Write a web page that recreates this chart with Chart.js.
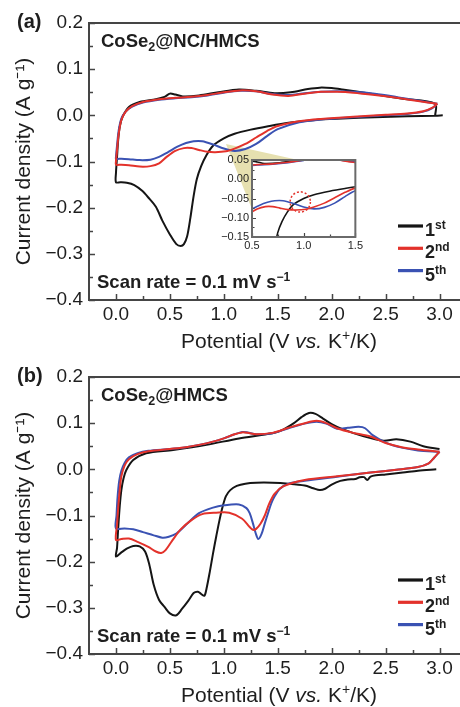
<!DOCTYPE html>
<html><head><meta charset="utf-8">
<script src="https://cdn.jsdelivr.net/npm/chart.js@4/dist/chart.umd.min.js"></script>
<style>
html,body{margin:0;padding:0;background:#fff;}
#wrap{position:relative;width:460px;height:707px;overflow:hidden;}
.box{position:absolute;}
canvas{display:block;}
</style></head><body>
<div id="wrap">
 <div class="box" style="left:0;top:0;"><canvas id="ca" width="460" height="353"></canvas></div>
 <div class="box" style="left:0;top:354px;"><canvas id="cb" width="460" height="353"></canvas></div>
 <div class="box" style="left:210px;top:150px;"><canvas id="ci" width="155" height="105"></canvas></div>
</div>
<script>
// ---------------- DATA ----------------
const cycleLabels = ['1', '2', '5'];
const cycleSup = ['st', 'nd', 'th'];
const xTickValues = [0, 0.5, 1.0, 1.5, 2.0, 2.5, 3.0];
const yTickValues = [-0.4, -0.3, -0.2, -0.1, 0.0, 0.1, 0.2];
const insetXTicks = [0.5, 1.0, 1.5];
const insetYTicks = [-0.15, -0.10, -0.05, 0.00, 0.05];
const panelTitles = ['CoSe2@NC/HMCS', 'CoSe2@HMCS'];

// Panel (a) CoSe2@NC/HMCS — potential (V) and current density (A/g), cathodic then anodic branch
const a1V = [3.03, 2.96, 2.7, 2.4, 2.1, 1.85, 1.6, 1.4, 1.25, 1.1, 1.0, 0.9, 0.84, 0.79, 0.75, 0.72, 0.69, 0.66, 0.63, 0.6, 0.56, 0.5, 0.43, 0.37, 0.3, 0.24, 0.17, 0.1, 0.04, 0.0,
             0.0, 0.01, 0.02, 0.035, 0.06, 0.12, 0.22, 0.37, 0.45, 0.5, 0.55, 0.62, 0.77, 0.95, 1.14, 1.3, 1.47, 1.62, 1.78, 1.89, 2.0, 2.1, 2.36, 2.66, 2.96, 2.96];
const a1I = [0.0, -0.001, -0.002, -0.004, -0.007, -0.01, -0.016, -0.024, -0.031, -0.04, -0.05, -0.066, -0.086, -0.11, -0.138, -0.175, -0.222, -0.262, -0.279, -0.283, -0.279, -0.258, -0.228, -0.198, -0.178, -0.163, -0.151, -0.146, -0.145, -0.145,
             -0.125, -0.09, -0.055, -0.025, -0.004, 0.018, 0.029, 0.035, 0.04, 0.047, 0.045, 0.041, 0.043, 0.05, 0.056, 0.053, 0.048, 0.05, 0.057, 0.06, 0.059, 0.056, 0.047, 0.036, 0.025, 0.0];
const a2V = [2.98, 2.93, 2.85, 2.7, 2.5, 2.2, 1.9, 1.7, 1.5, 1.4, 1.3, 1.2, 1.1, 1.02, 0.92, 0.85, 0.77, 0.7, 0.63, 0.55, 0.47, 0.4, 0.32, 0.22, 0.12, 0.05, 0.0,
             0.0, 0.01, 0.025, 0.05, 0.09, 0.15, 0.25, 0.4, 0.55, 0.7, 0.85, 1.0, 1.15, 1.3, 1.45, 1.6, 1.75, 1.9, 2.05, 2.2, 2.4, 2.6, 2.8, 2.98];
const a2I = [0.025, 0.016, 0.009, 0.004, 0.001, -0.003, -0.008, -0.013, -0.023, -0.034, -0.048, -0.062, -0.072, -0.078, -0.08, -0.079, -0.075, -0.071, -0.071, -0.077, -0.09, -0.104, -0.11, -0.111, -0.108, -0.107, -0.107,
             -0.1, -0.075, -0.04, -0.01, 0.008, 0.02, 0.029, 0.035, 0.038, 0.04, 0.044, 0.05, 0.054, 0.052, 0.045, 0.042, 0.047, 0.051, 0.051, 0.049, 0.044, 0.038, 0.031, 0.025];
const a5V = [2.98, 2.93, 2.85, 2.7, 2.5, 2.2, 1.9, 1.7, 1.5, 1.4, 1.3, 1.2, 1.1, 1.0, 0.9, 0.8, 0.72, 0.65, 0.57, 0.48, 0.4, 0.32, 0.22, 0.12, 0.05, 0.0,
             0.0, 0.01, 0.025, 0.05, 0.09, 0.15, 0.25, 0.4, 0.55, 0.7, 0.85, 1.0, 1.15, 1.3, 1.45, 1.6, 1.75, 1.9, 2.05, 2.2, 2.4, 2.6, 2.8, 2.98];
const a5I = [0.025, 0.015, 0.008, 0.003, 0.0, -0.004, -0.009, -0.015, -0.03, -0.045, -0.062, -0.073, -0.077, -0.072, -0.063, -0.056, -0.056, -0.06, -0.068, -0.08, -0.09, -0.096, -0.097, -0.095, -0.094, -0.094,
             -0.09, -0.065, -0.033, -0.007, 0.008, 0.019, 0.028, 0.034, 0.037, 0.039, 0.043, 0.049, 0.053, 0.052, 0.046, 0.044, 0.048, 0.051, 0.052, 0.051, 0.047, 0.04, 0.032, 0.025];

// Panel (b) CoSe2@HMCS
const b1V = [2.97, 2.8, 2.66, 2.5, 2.41, 2.36, 2.33, 2.3, 2.26, 2.22, 2.15, 2.08, 2.0, 1.94, 1.89, 1.83, 1.75, 1.6, 1.45, 1.3, 1.2, 1.12, 1.06, 1.02, 0.99, 0.96, 0.93, 0.9, 0.87, 0.84, 0.82, 0.79, 0.76, 0.72, 0.67, 0.61, 0.56, 0.5, 0.45, 0.4, 0.35, 0.31, 0.27, 0.22, 0.16, 0.1, 0.05, 0.0,
             0.01, 0.02, 0.035, 0.05, 0.07, 0.095, 0.16, 0.28, 0.53, 0.84, 1.14, 1.45, 1.55, 1.65, 1.72, 1.79, 1.85, 1.92, 2.0, 2.1, 2.29, 2.48, 2.6, 2.73, 2.85, 3.0];
const b1I = [0.0, -0.003, -0.007, -0.011, -0.013, -0.016, -0.023, -0.017, -0.017, -0.021, -0.022, -0.025, -0.033, -0.042, -0.045, -0.041, -0.035, -0.031, -0.029, -0.029, -0.031, -0.036, -0.045, -0.058, -0.08, -0.11, -0.145, -0.182, -0.222, -0.258, -0.274, -0.27, -0.265, -0.268, -0.285, -0.303, -0.316, -0.312, -0.298, -0.283, -0.25, -0.207, -0.178, -0.167, -0.166, -0.172, -0.18, -0.189,
             -0.17, -0.13, -0.08, -0.045, -0.02, -0.002, 0.02, 0.035, 0.042, 0.053, 0.067, 0.078, 0.086, 0.1, 0.113, 0.122, 0.12, 0.11, 0.098, 0.087, 0.072, 0.062, 0.065, 0.06, 0.05, 0.044];
const b2V = [3.0, 2.95, 2.9, 2.8, 2.6, 2.36, 2.05, 1.75, 1.55, 1.47, 1.42, 1.38, 1.34, 1.3, 1.27, 1.24, 1.17, 1.05, 0.93, 0.8, 0.7, 0.6, 0.52, 0.46, 0.42, 0.37, 0.3, 0.2, 0.12, 0.05, 0.0,
             0.01, 0.02, 0.035, 0.05, 0.08, 0.12, 0.2, 0.3, 0.5, 0.65, 0.77, 0.9, 1.0, 1.1, 1.17, 1.22, 1.3, 1.45, 1.6, 1.75, 1.86, 1.95, 2.05, 2.2, 2.36, 2.5, 2.65, 2.8, 3.0];
const b2I = [0.038, 0.025, 0.013, 0.005, -0.001, -0.007, -0.015, -0.023, -0.037, -0.053, -0.075, -0.1, -0.118, -0.129, -0.131, -0.125, -0.107, -0.094, -0.094, -0.097, -0.11, -0.13, -0.155, -0.175, -0.181, -0.178, -0.168, -0.157, -0.15, -0.151, -0.153,
             -0.12, -0.085, -0.045, -0.015, 0.008, 0.022, 0.033, 0.039, 0.044, 0.048, 0.053, 0.06, 0.067, 0.076, 0.08, 0.079, 0.076, 0.079, 0.09, 0.1, 0.105, 0.1, 0.089, 0.079, 0.071, 0.057, 0.048, 0.043, 0.038];
const b5V = [3.0, 2.95, 2.9, 2.8, 2.6, 2.36, 2.05, 1.75, 1.6, 1.52, 1.47, 1.44, 1.41, 1.38, 1.35, 1.32, 1.295, 1.27, 1.24, 1.21, 1.14, 1.0, 0.9, 0.77, 0.65, 0.56, 0.49, 0.43, 0.35, 0.25, 0.16, 0.08, 0.0,
             0.005, 0.015, 0.03, 0.05, 0.08, 0.12, 0.2, 0.3, 0.5, 0.65, 0.77, 0.9, 1.0, 1.1, 1.17, 1.22, 1.3, 1.45, 1.6, 1.75, 1.86, 1.95, 2.05, 2.15, 2.25, 2.31, 2.38, 2.5, 2.65, 2.8, 3.0];
const b5I = [0.038, 0.025, 0.013, 0.005, -0.001, -0.007, -0.016, -0.025, -0.031, -0.042, -0.059, -0.074, -0.095, -0.117, -0.14, -0.151, -0.138, -0.117, -0.095, -0.084, -0.076, -0.078, -0.083, -0.095, -0.12, -0.139, -0.146, -0.148, -0.143, -0.136, -0.13, -0.128, -0.128,
             -0.1, -0.06, -0.025, -0.003, 0.014, 0.026, 0.035, 0.04, 0.044, 0.048, 0.053, 0.06, 0.067, 0.076, 0.081, 0.08, 0.076, 0.078, 0.089, 0.099, 0.103, 0.099, 0.088, 0.09, 0.092, 0.089, 0.074, 0.058, 0.047, 0.041, 0.038];

// ---------------- STYLE ----------------
const SANS = '"Liberation Sans", Arial, Helvetica, sans-serif';
const COLORS = ['#151515', '#e3322b', '#3a52b3'];
const AXIS = '#454545';
const TEXT = '#1e1e1e';

function pts(V, I) { return V.map((v, i) => ({ x: v, y: I[i] })); }
function fmt(v, d) { const s = Math.abs(v).toFixed(d); return (v < -1e-9 ? '\u2212' : '') + s; }
function mids(arr) { const m = []; for (let i = 0; i < arr.length - 1; i++) m.push((arr[i] + arr[i + 1]) / 2); return m; }

function rich(ctx, parts, x, y, align) {
  let w = 0;
  parts.forEach(p => { ctx.font = p.f; p.w = ctx.measureText(p.t).width; w += p.w; });
  let cx = align === 'center' ? x - w / 2 : x;
  ctx.textBaseline = 'alphabetic'; ctx.textAlign = 'left'; ctx.fillStyle = TEXT;
  parts.forEach(p => { ctx.font = p.f; ctx.fillText(p.t, cx, y + (p.dy || 0)); cx += p.w; });
}

function drawTicks(chart, xMaj, yMaj, lMaj, lMin, lw) {
  const { ctx, chartArea: a, scales: { x, y } } = chart;
  ctx.save(); ctx.strokeStyle = AXIS; ctx.lineWidth = lw; ctx.beginPath();
  const xs = [...xMaj.map(v => [v, lMaj]), ...mids(xMaj).map(v => [v, lMin])];
  const ys = [...yMaj.map(v => [v, lMaj]), ...mids(yMaj).map(v => [v, lMin])];
  xs.forEach(([v, l]) => { const p = Math.round(x.getPixelForValue(v)) + 0.5; ctx.moveTo(p, a.bottom); ctx.lineTo(p, a.bottom - l); });
  ys.forEach(([v, l]) => { const p = Math.round(y.getPixelForValue(v)) + 0.5; ctx.moveTo(a.left, p); ctx.lineTo(a.left + l, p); });
  ctx.stroke(); ctx.restore();
}

function subTitle(ctx, name, x, y) {
  const m = name.match(/^(.*?)(\d)(.*)$/);
  rich(ctx, [
    { t: m[1], f: 'bold 18.5px ' + SANS },
    { t: m[2], f: 'bold 12.5px ' + SANS, dy: 4 },
    { t: m[3], f: 'bold 18.5px ' + SANS }
  ], x, y);
}

function makeDeco(panelLetter, title, cone) {
  return {
    id: 'deco' + panelLetter,
    beforeDatasetsDraw(chart) {
      if (!cone) return;
      const { ctx, scales: { x, y } } = chart;
      ctx.save(); ctx.fillStyle = '#e6e0b0'; ctx.beginPath();
      cone.forEach((p, i) => { const px = x.getPixelForValue(p[0]), py = y.getPixelForValue(p[1]); i ? ctx.lineTo(px, py) : ctx.moveTo(px, py); });
      ctx.closePath(); ctx.fill(); ctx.restore();
    },
    afterDraw(chart) {
      const { ctx, chartArea: a } = chart;
      drawTicks(chart, xTickValues, yTickValues, 6, 4, 1.5);
      // top frame line
      ctx.save(); ctx.strokeStyle = AXIS; ctx.lineWidth = 2;
      ctx.beginPath(); ctx.moveTo(a.left - 1, a.top); ctx.lineTo(a.right, a.top); ctx.stroke(); ctx.restore();
      // panel letter
      rich(ctx, [{ t: '(' + panelLetter + ')', f: 'bold 20px ' + SANS }], 17, 28);
      subTitle(ctx, title, 101, a.top + 24);
      rich(ctx, [
        { t: 'Scan rate = 0.1 mV s', f: 'bold 18.5px ' + SANS },
        { t: '\u22121', f: 'bold 12px ' + SANS, dy: -7 }
      ], 97, a.bottom - 12);
      // x-axis title
      rich(ctx, [
        { t: 'Potential (V ', f: '21px ' + SANS },
        { t: 'vs.', f: 'italic 21px ' + SANS },
        { t: ' K', f: '21px ' + SANS },
        { t: '+', f: '14px ' + SANS, dy: -8 },
        { t: '/K)', f: '21px ' + SANS }
      ], 279, 348, 'center');
      // legend
      chart.data.datasets.forEach((ds, i) => {
        const ly = 226 + i * 22.3;
        ctx.save(); ctx.strokeStyle = ds.borderColor; ctx.lineWidth = 3.2;
        ctx.beginPath(); ctx.moveTo(398, ly); ctx.lineTo(423, ly); ctx.stroke(); ctx.restore();
        rich(ctx, [
          { t: cycleLabels[i], f: 'bold 18px ' + SANS },
          { t: cycleSup[i], f: 'bold 12px ' + SANS, dy: -7 }
        ], 425, ly + 10);
      });
    }
  };
}

function mainChart(id, series, letter, title, cone) {
  return new Chart(document.getElementById(id), {
    type: 'scatter',
    data: {
      datasets: series.map((s, i) => ({
        label: cycleLabels[i] + cycleSup[i],
        data: pts(s[0], s[1]),
        showLine: true, borderColor: COLORS[i], backgroundColor: COLORS[i],
        borderWidth: 2, pointRadius: 0, tension: 0.3, order: [3, 1, 2][i]
      }))
    },
    options: {
      responsive: false, animation: false, devicePixelRatio: 1,
      layout: { padding: { top: 23, left: 0, right: 0, bottom: 0 } },
      plugins: { legend: { display: false }, tooltip: { enabled: false } },
      scales: {
        x: {
          type: 'linear', min: -0.25, max: 3.19,
          grid: { display: false, drawTicks: false },
          border: { display: true, color: AXIS, width: 2 },
          afterBuildTicks: s => { s.ticks = xTickValues.map(v => ({ value: v })); },
          afterFit: s => { s.height = 53; },
          ticks: { font: { family: SANS, size: 19 }, color: TEXT, padding: 3, maxRotation: 0, autoSkip: false, callback: v => fmt(v, 1) }
        },
        y: {
          type: 'linear', min: -0.4, max: 0.2,
          grid: { display: false, drawTicks: false },
          border: { display: true, color: AXIS, width: 2 },
          afterBuildTicks: s => { s.ticks = yTickValues.map(v => ({ value: v })); },
          afterFit: s => { s.width = 89; },
          ticks: { font: { family: SANS, size: 19 }, color: TEXT, padding: 6, autoSkip: false, callback: v => fmt(v, 1) },
          title: { display: true, text: 'Current density (A g\u207B\u00B9)', font: { family: SANS, size: 21 }, color: TEXT, padding: { top: 12, bottom: 0 } }
        }
      }
    },
    plugins: [makeDeco(letter, title, cone)]
  });
}

// magnification cone (data coordinates of panel a): apex near the curve crossing, toward inset
const coneA = [[1.02, -0.062], [1.67, -0.0955], [1.264, -0.205]];

mainChart('ca', [[a1V, a1I], [a2V, a2I], [a5V, a5I]], 'a', panelTitles[0], coneA);
mainChart('cb', [[b1V, b1I], [b2V, b2I], [b5V, b5I]], 'b', panelTitles[1], null);

// ---------------- INSET ----------------
const insetCircle = [0.967, -0.059];
new Chart(document.getElementById('ci'), {
  type: 'scatter',
  data: {
    datasets: [[a1V, a1I], [a2V, a2I], [a5V, a5I]].map((s, i) => ({
      data: pts(s[0], s[1]), showLine: true, borderColor: COLORS[i], borderWidth: 1.6,
      pointRadius: 0, tension: 0.3, order: [3, 1, 2][i]
    }))
  },
  options: {
    responsive: false, animation: false, devicePixelRatio: 1,
    layout: { padding: { top: 10, left: 0, right: 6, bottom: 0 } },
    plugins: { legend: { display: false }, tooltip: { enabled: false } },
    scales: {
      x: {
        type: 'linear', min: 0.5, max: 1.5,
        grid: { display: false, drawTicks: false }, border: { display: false },
        afterBuildTicks: s => { s.ticks = insetXTicks.map(v => ({ value: v })); },
        afterFit: s => { s.height = 18; },
        ticks: { font: { family: SANS, size: 11 }, color: TEXT, padding: 2, maxRotation: 0, autoSkip: false, callback: v => fmt(v, 1) }
      },
      y: {
        type: 'linear', min: -0.15, max: 0.05,
        grid: { display: false, drawTicks: false }, border: { display: false },
        afterBuildTicks: s => { s.ticks = insetYTicks.map(v => ({ value: v })); },
        afterFit: s => { s.width = 42; },
        ticks: { font: { family: SANS, size: 11 }, color: TEXT, padding: 3, autoSkip: false, callback: v => fmt(v, 2) }
      }
    }
  },
  plugins: [{
    id: 'insetDeco',
    beforeDatasetsDraw(chart) {
      const { ctx, chartArea: a } = chart;
      ctx.save(); ctx.fillStyle = '#fff'; ctx.fillRect(a.left, a.top, a.right - a.left, a.bottom - a.top); ctx.restore();
    },
    afterDraw(chart) {
      const { ctx, chartArea: a, scales: { x, y } } = chart;
      drawTicks(chart, insetXTicks, insetYTicks, 4, 2.5, 1.2);
      const cx = x.getPixelForValue(insetCircle[0]), cy = y.getPixelForValue(insetCircle[1]);
      const r = Math.abs(x.getPixelForValue(insetCircle[0] + 0.098) - cx);
      ctx.save(); ctx.strokeStyle = '#e3322b'; ctx.lineWidth = 1.5; ctx.setLineDash([2, 2]);
      ctx.beginPath(); ctx.arc(cx, cy, r, 0, Math.PI * 2); ctx.stroke(); ctx.restore();
      ctx.save(); ctx.strokeStyle = '#6a6a6a'; ctx.lineWidth = 2;
      ctx.strokeRect(a.left, a.top, a.right - a.left, a.bottom - a.top); ctx.restore();
    }
  }]
});
</script>
</body></html>
